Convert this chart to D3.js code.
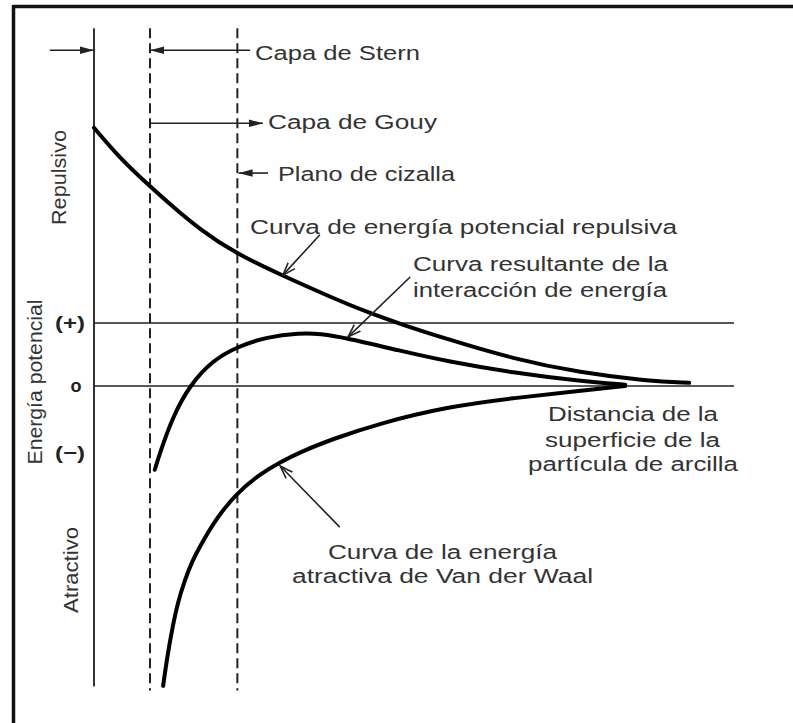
<!DOCTYPE html>
<html>
<head>
<meta charset="utf-8">
<script src="https://cdn.jsdelivr.net/npm/d3@7/dist/d3.min.js"></script>
<style>
  html, body { margin: 0; padding: 0; background: #fff; }
  svg { display: block; }
  text { font-family: "Liberation Sans", Arial, sans-serif; fill: #333; }
</style>
</head>
<body>
<svg id="chart" width="793" height="723"></svg>
<script>
// ---- Data (distance units 0..100, energy units: (+) = 1, 0 = 0) ----
const repX = [0, 4, 8.5, 12.5, 16.5, 22, 29.5, 37, 43, 48, 55, 65.5, 76, 86.5, 93];
const repY = [4.1, 3.62, 3.19, 2.83, 2.49, 2.11, 1.75, 1.41, 1.16, 0.98, 0.75, 0.43, 0.21, 0.08, 0.05];

const resX = [9.5, 10.3, 12.3, 15, 18.6, 22.3, 27, 32.2, 35.3, 39.5, 47.8, 55.2, 65.5, 75.9, 83];
const resY = [-1.33, -1.06, -0.49, 0.02, 0.41, 0.62, 0.78, 0.84, 0.83, 0.76, 0.56, 0.39, 0.21, 0.08, 0.02];

const attX = [10.8, 11.4, 12.2, 13.1, 14.2, 15.3, 16.6, 18.9, 22.2, 25.9, 29.1, 32.2, 37.3, 44.7, 55.2, 65.5, 75.9, 83];
const attY = [-4.76, -4.33, -3.86, -3.43, -3.08, -2.79, -2.54, -2.13, -1.71, -1.40, -1.21, -1.05, -0.84, -0.59, -0.33, -0.19, -0.08, 0];

const tickValues = [1, 0, -1.06];
const tickLabels = ["(+)", "o", "(\u2212)"];

const layerBounds = [0, 8.75, 22.4];   // axis, Stern boundary, shear plane
const refLines = [1, 0];
const xMax = 100, yTop = 5.68, yBottom = -4.8;

// ---- Scales ----
const x = d3.scaleLinear().domain([0, 100]).range([94, 734]);
const y = d3.scaleLinear().domain([0, 1]).range([386, 323]);

const svg = d3.select("#chart");

// Frame (top & left rule)
svg.append("line").attr("x1", 13).attr("x2", 793).attr("y1", 6.5).attr("y2", 6.5)
  .attr("stroke", "#111").attr("stroke-width", 3.5);
svg.append("line").attr("x1", 13.5).attr("x2", 13.5).attr("y1", 5).attr("y2", 723)
  .attr("stroke", "#111").attr("stroke-width", 3.5);

// markers
const defs = svg.append("defs");
defs.append("marker").attr("id", "ah").attr("markerUnits", "userSpaceOnUse")
  .attr("viewBox", "0 -5 14 10").attr("refX", 14).attr("refY", 0)
  .attr("markerWidth", 14).attr("markerHeight", 10).attr("orient", "auto")
  .append("path").attr("d", "M0,-3.8L14,0L0,3.8Z").attr("fill", "#222");
defs.append("marker").attr("id", "ah2").attr("markerUnits", "userSpaceOnUse")
  .attr("viewBox", "0 -6 14 12").attr("refX", 13).attr("refY", 0)
  .attr("markerWidth", 14).attr("markerHeight", 12).attr("orient", "auto")
  .append("path").attr("d", "M0,-4.5L13,0L0,4.5").attr("fill", "none").attr("stroke", "#222").attr("stroke-width", 1.6);

// Vertical axis line
svg.append("line").attr("x1", x(0)).attr("x2", x(0)).attr("y1", y(yTop)).attr("y2", y(yBottom) - 2)
  .attr("stroke", "#333").attr("stroke-width", 2);

// Dashed layer boundaries
svg.selectAll(".dash").data(layerBounds.slice(1)).enter().append("line")
  .attr("x1", d => x(d)).attr("x2", d => x(d))
  .attr("y1", y(yTop)).attr("y2", y(yBottom) + 2)
  .attr("stroke", "#222").attr("stroke-width", 2).attr("stroke-dasharray", "10,5");

// Reference horizontal lines
svg.selectAll(".ref").data(refLines).enter().append("line")
  .attr("x1", x(0)).attr("x2", x(xMax)).attr("y1", d => y(d)).attr("y2", d => y(d))
  .attr("stroke", "#222").attr("stroke-width", 1.6);

// Curves
const line = d3.line().x(d => x(d[0])).y(d => y(d[1])).curve(d3.curveBasis);
const curves = [d3.zip(repX, repY), d3.zip(resX, resY), d3.zip(attX, attY)];
svg.selectAll(".curve").data(curves).enter().append("path")
  .attr("d", line).attr("fill", "none").attr("stroke", "#000")
  .attr("stroke-width", 4).attr("stroke-linecap", "round");

// Layer arrows and annotation pointers
const sternY = 5.33, gouyY = 4.17, planoY = 3.38;
const layerArrows = [
  [[-6.9, sternY], [0, sternY], "ah"],
  [[24.4, sternY], [8.75, sternY], "ah"],
  [[8.75, gouyY], [26.4, gouyY], "ah"],
  [[27.2, planoY], [22.6, planoY], "ah"],
  [[35.3, 2.40], [29.5, 1.76], "ah2"],
  [[49.4, 1.73], [39.7, 0.78], "ah2"],
  [[38.4, -2.24], [29.1, -1.27], "ah2"]
];
svg.selectAll(".arr").data(layerArrows).enter().append("line")
  .attr("x1", d => x(d[0][0])).attr("y1", d => y(d[0][1]))
  .attr("x2", d => x(d[1][0])).attr("y2", d => y(d[1][1]))
  .attr("stroke", "#222").attr("stroke-width", 1.6)
  .attr("marker-end", d => `url(#${d[2]})`);

// Tick labels
svg.selectAll(".tick").data(tickValues).enter().append("text")
  .attr("x", (d, i) => i === 1 ? 76 : 70).attr("y", d => y(d)).attr("dy", "0.35em")
  .attr("text-anchor", "middle").attr("font-size", 18).attr("font-weight", "bold")
  .attr("textLength", (d, i) => i === 1 ? 11 : 30).attr("lengthAdjust", "spacingAndGlyphs")
  .style("fill", "#222")
  .text((d, i) => tickLabels[i]);

// Horizontal labels
const labels = [
  {t: "Capa de Stern", x: 255, y: 60, w: 165},
  {t: "Capa de Gouy", x: 268, y: 129, w: 169},
  {t: "Plano de cizalla", x: 278, y: 181, w: 177},
  {t: "Curva de energía potencial repulsiva", x: 250, y: 234, w: 427},
  {t: "Curva resultante de la", x: 413, y: 271, w: 255},
  {t: "interacción de energía", x: 413, y: 297, w: 254},
  {t: "Distancia de la", x: 548, y: 421, w: 170},
  {t: "superficie de la", x: 545, y: 447, w: 175},
  {t: "partícula de arcilla", x: 528, y: 471, w: 210},
  {t: "Curva de la energía", x: 328, y: 559, w: 229},
  {t: "atractiva de Van der Waal", x: 292, y: 583, w: 301}
];
svg.selectAll(".lab").data(labels).enter().append("text")
  .attr("x", d => d.x).attr("y", d => d.y).attr("font-size", 20)
  .attr("textLength", d => d.w).attr("lengthAdjust", "spacingAndGlyphs")
  .text(d => d.t);

// Rotated labels
const vlabels = [
  {t: "Repulsivo", x: 66, y: 177.5, w: 95},
  {t: "Energía potencial", x: 42, y: 382, w: 165},
  {t: "Atractivo", x: 78, y: 570, w: 86}
];
svg.selectAll(".vlab").data(vlabels).enter().append("text")
  .attr("transform", d => `translate(${d.x},${d.y}) rotate(-90)`)
  .attr("text-anchor", "middle").attr("font-size", 20)
  .attr("textLength", d => d.w).attr("lengthAdjust", "spacingAndGlyphs")
  .text(d => d.t);
</script>
</body>
</html>
